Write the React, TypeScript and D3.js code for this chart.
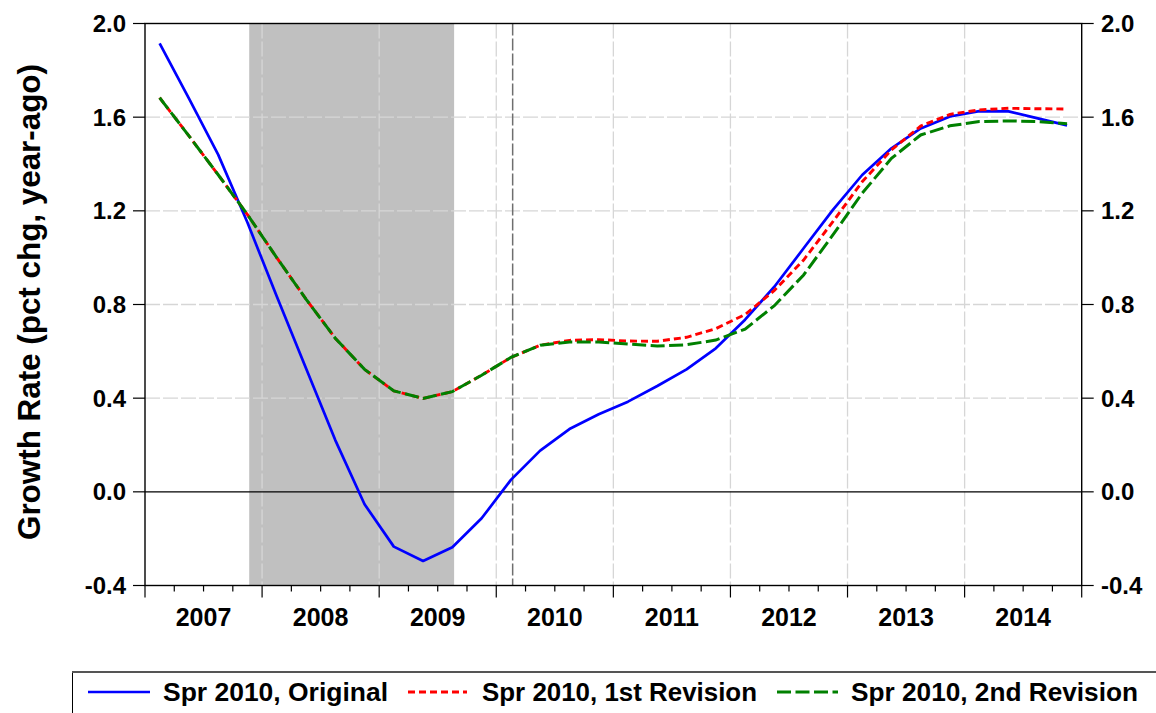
import React from "react";
import * as d3 from "d3";

const quarters = [
  "2007Q1","2007Q2","2007Q3","2007Q4","2008Q1","2008Q2","2008Q3","2008Q4",
  "2009Q1","2009Q2","2009Q3","2009Q4","2010Q1","2010Q2","2010Q3","2010Q4",
  "2011Q1","2011Q2","2011Q3","2011Q4","2012Q1","2012Q2","2012Q3","2012Q4",
  "2013Q1","2013Q2","2013Q3","2013Q4","2014Q1","2014Q2","2014Q3","2014Q4",
];

const original = [
  1.915, 1.68, 1.44, 1.15, 0.835, 0.528, 0.221, -0.053,
  -0.234, -0.295, -0.237, -0.113, 0.051, 0.176, 0.268, 0.331,
  0.385, 0.452, 0.523, 0.613, 0.735, 0.876, 1.04, 1.204,
  1.353, 1.467, 1.552, 1.603, 1.626, 1.625, 1.595, 1.565,
];

const revision1 = [
  1.683, 1.52, 1.354, 1.184, 1.0, 0.823, 0.656, 0.523,
  0.431, 0.399, 0.428, 0.498, 0.574, 0.626, 0.647, 0.65,
  0.644, 0.643, 0.66, 0.697, 0.757, 0.86, 0.99, 1.154,
  1.324, 1.46, 1.562, 1.612, 1.631, 1.638, 1.636, 1.635,
];

const revision2 = [
  1.683, 1.52, 1.354, 1.184, 1.0, 0.823, 0.656, 0.523,
  0.431, 0.399, 0.428, 0.498, 0.574, 0.626, 0.64, 0.64,
  0.631, 0.623, 0.628, 0.648, 0.695, 0.795, 0.926, 1.097,
  1.275, 1.424, 1.524, 1.563, 1.581, 1.584, 1.581, 1.572,
];

const years = [2007, 2008, 2009, 2010, 2011, 2012, 2013, 2014];
const yTicks = [-0.4, 0.0, 0.4, 0.8, 1.2, 1.6, 2.0];
const recession = [2007.89, 2009.64];
const forecastStart = 2010.14;

const seriesNames = ["Spr 2010, Original", "Spr 2010, 1st Revision", "Spr 2010, 2nd Revision"];

const L = 145, R = 1081.7, T = 23.5, B = 585.5;

function qPos(q: string) {
  const y = +q.slice(0, 4);
  const n = +q.slice(5);
  return y + (n - 0.5) / 4;
}

export default function App() {
  const x = d3.scaleLinear().domain([2007, 2015]).range([L, R]);
  const y = d3.scaleLinear().domain([-0.4, 2.0]).range([B, T]);
  const line = d3
    .line<number>()
    .x((_, i) => x(qPos(quarters[i])))
    .y((d) => y(d));

  const minorTicks: number[] = [];
  for (let yr = 2007; yr < 2015; yr++) for (let q = 1; q < 4; q++) minorTicks.push(yr + q / 4);
  const majorTicks = [...years, 2015];

  const font = "'Liberation Sans', Arial, Helvetica, sans-serif";

  return (
    <svg
      width={1156}
      height={713}
      style={{ position: "absolute", left: 0, top: 0, background: "#fff" }}
      fontFamily={font}
    >
      <rect x={0} y={0} width={1156} height={713} fill="#fff" />
      {/* recession shading */}
      <rect
        x={x(recession[0])}
        y={T}
        width={x(recession[1]) - x(recession[0])}
        height={B - T}
        fill="#C0C0C0"
      />
      {/* gridlines */}
      {years.slice(1).map((yr) => (
        <line
          key={"vg" + yr}
          x1={x(yr)}
          x2={x(yr)}
          y1={T}
          y2={B}
          stroke="#D6D6D6"
          strokeWidth={1.3}
          strokeDasharray="15,3"
        />
      ))}
      {yTicks
        .filter((v) => v > -0.4 && v < 2.0 && v !== 0)
        .map((v) => (
          <line
            key={"hg" + v}
            x1={L}
            x2={R}
            y1={y(v)}
            y2={y(v)}
            stroke="#D6D6D6"
            strokeWidth={1.3}
            strokeDasharray="15,3"
          />
        ))}
      {/* zero line */}
      <line x1={L} x2={R} y1={y(0)} y2={y(0)} stroke="#000" strokeWidth={1.3} />
      {/* forecast start line */}
      <line
        x1={x(forecastStart)}
        x2={x(forecastStart)}
        y1={T}
        y2={B}
        stroke="#6E6E6E"
        strokeWidth={1.5}
        strokeDasharray="12,3"
      />
      {/* series */}
      <path d={line(original) || ""} fill="none" stroke="#0000FF" strokeWidth={2.7} strokeLinejoin="round" />
      <path
        d={line(revision1) || ""}
        fill="none"
        stroke="#FF0000"
        strokeWidth={2.9}
        strokeDasharray="7,4"
      />
      <path
        d={line(revision2) || ""}
        fill="none"
        stroke="#008000"
        strokeWidth={3}
        strokeDasharray="14,4.5"
      />
      {/* frame */}
      <rect x={L} y={T} width={R - L} height={B - T} fill="none" stroke="#000" strokeWidth={1.4} />
      {/* y ticks */}
      {yTicks.map((v) => (
        <g key={"yt" + v}>
          <line x1={L - 12} x2={L} y1={y(v)} y2={y(v)} stroke="#000" strokeWidth={1.2} />
          <line x1={R} x2={R + 12} y1={y(v)} y2={y(v)} stroke="#000" strokeWidth={1.2} />
          <text
            x={126}
            y={y(v)}
            dy="0.36em"
            textAnchor="end"
            fontSize={24}
            fontWeight="bold"
          >
            {v.toFixed(1)}
          </text>
          <text x={1101} y={y(v)} dy="0.36em" textAnchor="start" fontSize={24} fontWeight="bold">
            {v.toFixed(1)}
          </text>
        </g>
      ))}
      {/* x ticks */}
      {minorTicks.map((t) => (
        <line key={"mt" + t} x1={x(t)} x2={x(t)} y1={B} y2={B + 6} stroke="#000" strokeWidth={1.2} />
      ))}
      {majorTicks.map((t) => (
        <line key={"Mt" + t} x1={x(t)} x2={x(t)} y1={B} y2={B + 12} stroke="#000" strokeWidth={1.2} />
      ))}
      {years.map((yr) => (
        <text
          key={"yl" + yr}
          x={x(yr + 0.5)}
          y={625.5}
          textAnchor="middle"
          fontSize={25}
          fontWeight="bold"
        >
          {yr}
        </text>
      ))}
      {/* y axis title */}
      <text
        transform="translate(40,302) rotate(-90)"
        textAnchor="middle"
        fontSize={31}
        fontWeight="bold"
        textLength={476}
        lengthAdjust="spacingAndGlyphs"
      >
        Growth Rate (pct chg, year-ago)
      </text>
      {/* legend */}
      <rect x={72.5} y={672.5} width={1100} height={60} fill="#fff" stroke="#000" strokeWidth={1} />
      <line x1={72} x2={1156} y1={672} y2={672} stroke="#555" strokeWidth={2} />
      <line x1={88} x2={150} y1={692} y2={692} stroke="#0000FF" strokeWidth={2.7} />
      <line x1={408} x2={467} y1={692} y2={692} stroke="#FF0000" strokeWidth={2.9} strokeDasharray="7,4" />
      <line x1={777} x2={838} y1={692} y2={692} stroke="#008000" strokeWidth={3} strokeDasharray="14,4.5" />
      {[163, 482, 851].map((lx, i) => (
        <text
          key={"lg" + i}
          x={lx}
          y={701}
          fontSize={25}
          fontWeight="bold"
          textLength={[225, 275, 287][i]}
          lengthAdjust="spacingAndGlyphs"
        >
          {seriesNames[i]}
        </text>
      ))}
    </svg>
  );
}
